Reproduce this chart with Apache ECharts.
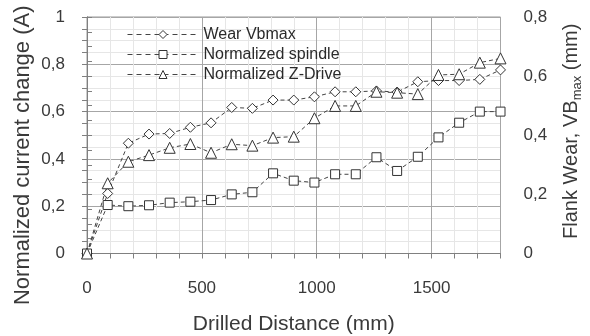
<!DOCTYPE html>
<html>
<head>
<meta charset="utf-8">
<script src="https://cdn.jsdelivr.net/npm/echarts@6/dist/echarts.min.js"></script>
<style>
  html, body { margin: 0; padding: 0; background: #fff; }
  #chart { width: 590px; height: 336px; }
</style>
</head>
<body>
<div id="chart"></div>
<script>
const distance = [0, 90, 180, 270, 360, 450, 540, 630, 720, 810, 900, 990, 1080, 1170, 1260, 1350, 1440, 1530, 1620, 1710, 1800];
const wearVbmax = [0, 0.203, 0.373, 0.404, 0.406, 0.427, 0.442, 0.494, 0.491, 0.519, 0.519, 0.530, 0.547, 0.547, 0.550, 0.546, 0.581, 0.585, 0.585, 0.589, 0.621];
const spindle = [0, 0.205, 0.200, 0.204, 0.215, 0.219, 0.226, 0.250, 0.259, 0.339, 0.308, 0.300, 0.335, 0.335, 0.407, 0.349, 0.409, 0.491, 0.553, 0.600, 0.600];
const zDrive = [0, 0.297, 0.388, 0.416, 0.447, 0.463, 0.426, 0.462, 0.456, 0.490, 0.494, 0.572, 0.624, 0.624, 0.684, 0.680, 0.674, 0.755, 0.758, 0.807, 0.825];
const xLabels = [0, 500, 1000, 1500];

const chart = echarts.init(document.getElementById("chart"));

const font = "Liberation Sans, Arial, sans-serif";
const textColor = "#3a3a3a";
const axisGray = "#808080";

const pairs = (ys) => distance.map((x, i) => [x, ys[i]]);
const isMajor = (v) => Math.abs(v * 5 - Math.round(v * 5)) < 1e-6;
const comma = (v) => String(Math.round(v * 10) / 10).replace(".", ",");

const lineSeries = (name, data, symbol, size, yIndex) => ({
  name: name,
  type: "line",
  xAxisIndex: 0,
  yAxisIndex: yIndex,
  data: pairs(data),
  symbol: symbol,
  symbolSize: size,
  showAllSymbol: true,
  lineStyle: {color: "#444", width: 1, type: [4, 3]},
  itemStyle: {color: "#fff", borderColor: "#333", borderWidth: 1},
  emphasis: {disabled: true},
  animation: false
});

const option = {
  animation: false,
  grid: {
    left: 87, right: 89.5, top: 17, bottom: 82.5,
    outerBoundsMode: "none",
    show: true, borderColor: "#999", borderWidth: 1
  },
  legend: {
    orient: "vertical",
    left: 122,
    top: 21.5,
    itemWidth: 71,
    itemHeight: 10,
    itemGap: 4,
    lineStyle: {color: "#444", width: 1, type: [5, 4]},
    itemStyle: {color: "#fff", borderColor: "#333", borderWidth: 1},
    textStyle: {fontFamily: font, fontSize: 16, color: "#2a2a2a"},
    data: ["Wear Vbmax", "Normalized spindle", "Normalized Z-Drive"]
  },
  xAxis: [
    {
      type: "value", min: 0, max: 1800, interval: 100,
      name: "Drilled Distance (mm)",
      nameLocation: "middle",
      nameGap: 60,
      nameMoveOverlap: false,
      nameTextStyle: {fontFamily: font, fontSize: 21, color: textColor},
      axisLine: {lineStyle: {color: axisGray}},
      axisTick: {show: true, inside: false, length: 5, lineStyle: {color: axisGray}},
      axisLabel: {
        margin: 26, fontFamily: font, fontSize: 17, color: textColor,
        formatter: (v) => xLabels.includes(v) ? String(v) : ""
      },
      splitLine: {show: true, lineStyle: {color: "#e6e6e6"}}
    },
    {
      type: "value", min: 0, max: 1800, interval: 500, position: "bottom",
      axisLine: {show: false}, axisTick: {show: false}, axisLabel: {show: false},
      splitLine: {show: true, lineStyle: {color: "#a6a6a6"}}
    }
  ],
  yAxis: [
    {
      type: "value", min: 0, max: 1, interval: 0.05, position: "left",
      name: "Normalized current change (A)",
      nameLocation: "middle",
      nameGap: 53,
      nameMoveOverlap: false,
      nameTextStyle: {fontFamily: font, fontSize: 22, color: textColor, padding: [0, 40, 0, 0]},
      axisLine: {show: true, lineStyle: {color: axisGray}},
      axisTick: {show: true, inside: false, length: 5, lineStyle: {color: axisGray}},
      axisLabel: {
        margin: 22, fontFamily: font, fontSize: 17, color: textColor,
        formatter: (v) => isMajor(v) ? comma(v) : ""
      },
      splitLine: {show: true, lineStyle: {color: "#e6e6e6"}}
    },
    {
      type: "value", min: 0, max: 0.8, interval: 0.05, position: "right",
      name: "{a|Flank Wear, VB}{b|max}{a| (mm)}",
      nameLocation: "middle",
      nameGap: 59,
      nameRotate: 90,
      nameMoveOverlap: false,
      nameTextStyle: {
        fontFamily: font, color: textColor, padding: [0, 0, 0, 8],
        rich: {
          a: {fontFamily: font, fontSize: 20, color: textColor, lineHeight: 24},
          b: {fontFamily: font, fontSize: 13, color: textColor, lineHeight: 24, verticalAlign: "bottom", padding: [6, 0, 0, 0]}
        }
      },
      axisLine: {show: true, lineStyle: {color: axisGray}},
      axisTick: {show: true, inside: false, length: 5, lineStyle: {color: axisGray}},
      axisLabel: {
        margin: 23, fontFamily: font, fontSize: 17, color: textColor,
        formatter: (v) => isMajor(v) ? comma(v) : ""
      },
      splitLine: {show: false}
    },
    {
      type: "value", min: 0, max: 1, interval: 0.2, position: "left",
      axisLine: {show: false}, axisTick: {show: false}, axisLabel: {show: false},
      splitLine: {show: true, lineStyle: {color: "#a6a6a6"}}
    }
  ],
  series: [
    lineSeries("Wear Vbmax", wearVbmax, "diamond", [10, 10], 1),
    lineSeries("Normalized spindle", spindle, "rect", 9, 0),
    lineSeries("Normalized Z-Drive", zDrive, "triangle", 11, 0)
  ]
};

chart.setOption(option);
</script>
</body>
</html>
